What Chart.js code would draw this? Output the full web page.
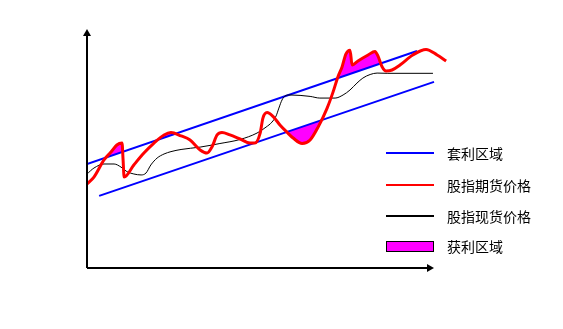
<!DOCTYPE html>
<html>
<head>
<meta charset="utf-8">
<script src="https://cdn.jsdelivr.net/npm/chart.js@4"></script>
<style>
  body { margin: 0; background: #fff; }
  #wrap { position: relative; width: 563px; height: 329px; }
  #legend { position: absolute; left: 0; top: 0; width: 563px; height: 329px; pointer-events: none;
            font-family: "Noto Sans CJK SC", sans-serif; font-size: 14px; color: #000; }
  .item { position: absolute; left: 386px; height: 20px; display: flex; align-items: center; }
  .sw { width: 48px; height: 2px; margin-right: 13px; }
  .box { width: 46px; height: 9px; border: 1px solid #000; background: #ff00ff; margin-right: 13px; }
</style>
</head>
<body>
<div id="wrap">
  <canvas id="c" width="563" height="329"></canvas>
  <div id="legend">
    <div class="item" style="top:143px"><div class="sw" style="background:#0000ff"></div>套利区域</div>
    <div class="item" style="top:175px"><div class="sw" style="background:#ff0000"></div>股指期货价格</div>
    <div class="item" style="top:206px"><div class="sw" style="background:#000"></div>股指现货价格</div>
    <div class="item" style="top:236px"><div class="box"></div>获利区域</div>
  </div>
</div>
<script>
// arbitrage band (two straight lines)
const upperT = [0, 95.1];
const upperV = [43.7, 91.2];
const lowerT = [3.5, 100];
const lowerV = [30.3, 78.2];

// index futures price
const futuresT = [0, 2.0, 4.9, 6.9, 8.6, 10.1, 10.4, 10.7, 13.5, 16.4, 19.3, 22.2, 24.2, 27.1, 29.7,
  32.6, 34.6, 36.0, 37.5, 38.9, 41.2, 44.1, 47.0, 48.4, 49.9, 50.7, 51.9, 53.6, 55.6, 57.6, 59.4,
  62.0, 64.3, 66.6, 69.2, 70.9, 72.3, 73.5, 74.6, 75.8, 76.4, 78.1, 81.0, 83.0, 83.9, 85.0, 86.2,
  87.9, 90.2, 93.9, 97.7, 100.9, 103.5];
const futuresV = [35.3, 38.2, 45.4, 48.7, 51.7, 52.5, 45.4, 38.2, 43.3, 48.3, 52.5, 55.9, 56.9, 55.5, 53.8,
  49.6, 48.3, 50.8, 55.9, 56.9, 55.9, 54.2, 52.5, 52.5, 56.7, 63.0, 65.3, 63.7, 60.1, 57.1, 54.6,
  52.3, 53.8, 59.2, 67.2, 73.9, 80.3, 84.5, 89.9, 91.5, 85.3, 87.0, 89.5, 91.0, 88.9, 84.7, 82.8,
  83.2, 85.3, 89.5, 91.8, 89.5, 87.0];

// index spot price
const spotT = [0, 2.0, 4.9, 7.8, 9.8, 11.5, 13.5, 15.6, 17.0, 18.4, 20.2, 22.2, 24.2, 27.1, 32.6,
  38.3, 44.1, 49.0, 51.6, 53.3, 54.5, 55.3, 56.2, 57.1, 58.5, 64.3, 67.1, 71.5, 73.8, 75.8, 77.8,
  79.5, 81.6, 83.6, 86.5, 99.7];
const spotV = [39.5, 42.0, 43.7, 43.7, 42.4, 40.5, 39.5, 39.1, 39.9, 43.3, 46.2, 47.9, 48.9, 49.8, 50.8,
  52.3, 54.0, 56.7, 59.2, 61.3, 63.9, 67.2, 70.6, 72.3, 72.7, 72.1, 71.4, 71.4, 72.7, 74.8, 77.7,
  79.8, 81.3, 81.9, 81.8, 81.8];

const axisEndX = 100;
const axisEndY = 100.4;

function pts(xs, ys) {
  return xs.map((x, i) => ({ x: x, y: ys[i] }));
}

// draws the two axes with arrow heads
const arrowAxes = {
  id: 'arrowAxes',
  afterDraw(chart) {
    const ctx = chart.ctx;
    const xs = chart.scales.x, ys = chart.scales.y;
    const x0 = xs.getPixelForValue(0), y0 = ys.getPixelForValue(0);
    const xEnd = xs.getPixelForValue(axisEndX), yEnd = ys.getPixelForValue(axisEndY);
    ctx.save();
    ctx.strokeStyle = '#000';
    ctx.fillStyle = '#000';
    ctx.lineWidth = 2;
    ctx.beginPath();
    ctx.moveTo(x0, y0);
    ctx.lineTo(x0, yEnd + 5);
    ctx.moveTo(x0, y0);
    ctx.lineTo(xEnd - 5, y0);
    ctx.stroke();
    ctx.beginPath();
    ctx.moveTo(x0, yEnd);
    ctx.lineTo(x0 - 4, yEnd + 7);
    ctx.lineTo(x0 + 4, yEnd + 7);
    ctx.closePath();
    ctx.fill();
    ctx.beginPath();
    ctx.moveTo(xEnd, y0);
    ctx.lineTo(xEnd - 7, y0 - 4);
    ctx.lineTo(xEnd - 7, y0 + 4);
    ctx.closePath();
    ctx.fill();
    ctx.restore();
  }
};

new Chart(document.getElementById('c'), {
  type: 'line',
  data: {
    datasets: [
      { label: 'upper', data: pts(upperT, upperV), borderColor: '#0000ff', borderWidth: 2,
        pointRadius: 0, fill: false, order: 2 },
      { label: 'lower', data: pts(lowerT, lowerV), borderColor: '#0000ff', borderWidth: 2,
        pointRadius: 0, fill: false, order: 2 },
      { label: '股指期货价格', data: pts(futuresT, futuresV), borderColor: '#ff0000', borderWidth: 3,
        pointRadius: 0, cubicInterpolationMode: 'monotone', order: 0,
        fill: { target: 0, above: '#ff00ff', below: 'transparent' } },
      { label: 'futures-low', data: pts(futuresT, futuresV), borderColor: 'transparent', borderWidth: 0,
        pointRadius: 0, cubicInterpolationMode: 'monotone', order: 4,
        fill: { target: 1, above: 'transparent', below: '#ff00ff' } },
      { label: '股指现货价格', data: pts(spotT, spotV), borderColor: '#000', borderWidth: 1,
        pointRadius: 0, cubicInterpolationMode: 'monotone', fill: false, order: 1 }
    ]
  },
  options: {
    responsive: false,
    animation: false,
    layout: { padding: { left: 87, right: 563 - 87 - 110 * 3.47, top: 30, bottom: 61 } },
    scales: {
      x: { type: 'linear', min: 0, max: 110, display: false },
      y: { type: 'linear', min: 0, max: 100, display: false }
    },
    plugins: {
      legend: { display: false },
      tooltip: { enabled: false },
      filler: { drawTime: 'beforeDatasetsDraw' }
    }
  },
  plugins: [arrowAxes]
});
</script>
</body>
</html>
